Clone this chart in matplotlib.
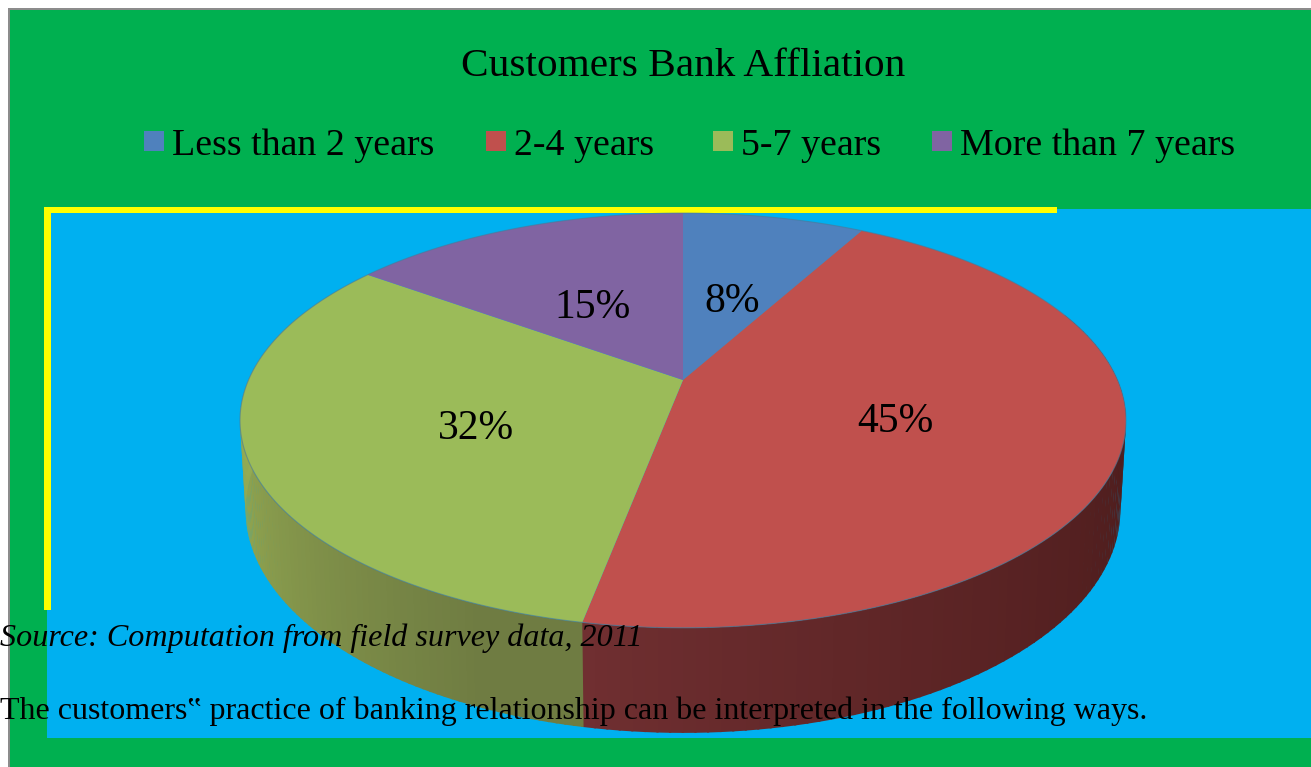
import numpy as np
import matplotlib
matplotlib.use("Agg")
import matplotlib.pyplot as plt
from matplotlib.colors import to_rgb
from matplotlib.patches import Polygon, Rectangle

# chart data
title = "Customers Bank Affliation"
categories = ["Less than 2 years", "2-4 years", "5-7 years", "More than 7 years"]
shares = [8, 45, 32, 15]
source_note = "Source: Computation from field survey data, 2011"
body_line = "The customers\u201f practice of banking relationship can be interpreted in the following ways."

colors = ["#4F81BD", "#C0504D", "#9BBB59", "#8064A2"]
side_near = ["#2c4a6e", "#4c1c1c", "#95ab52", "#4c3b60"]
side_far = ["#2c4a6e", "#702f31", "#6f7c42", "#4c3b60"]

plt.rcParams["font.family"] = ["Liberation Serif", "DejaVu Serif"]

fig = plt.figure(figsize=(13.11, 7.67), dpi=100, facecolor="white")
ax = fig.add_axes([0, 0, 1, 1])
ax.set_xlim(0, 1311)
ax.set_ylim(767, 0)
ax.axis("off")

# page background, plot area and the yellow corner
ax.add_patch(Rectangle((8, 8), 1303, 759, fc="#8c8c8c", ec="none", zorder=1))
ax.add_patch(Rectangle((9.5, 9.5), 1302, 758, fc="#00B050", ec="none", zorder=1))
ax.add_patch(Rectangle((47, 209), 1264, 529, fc="#00B0F0", ec="none", zorder=2))
ax.add_patch(Rectangle((44, 207), 1013, 6, fc="#FFFF00", ec="none", zorder=3))
ax.add_patch(Rectangle((44, 207), 7, 403, fc="#FFFF00", ec="none", zorder=3))


def project(angle, cy, a, b, k=0.195, cx=683):
    # perspective view of the pie disc, angle runs clockwise from the back
    u, v = np.sin(angle), np.cos(angle)
    w = 1 + k * v
    return cx + b * u / w, (cy - a * v) / w


top = dict(cy=380, a=125.4, b=434.5)
bottom = dict(cy=466.5, a=123.5, b=429)

fractions = np.array(shares) / sum(shares)
edges = np.concatenate([[0], np.cumsum(fractions)]) * 2 * np.pi

# side wall, built out of thin strips so it can be shaded
for i in range(len(shares)):
    th = np.linspace(edges[i], edges[i + 1], 120)
    c0 = np.array(to_rgb(side_near[i]))
    c1 = np.array(to_rgb(side_far[i]))
    for j in range(len(th) - 1):
        if np.cos(th[j]) > 0.35:
            continue
        t = (j + 0.5) / (len(th) - 1)
        if i == 1:
            col = c0 + (c1 - c0) * np.clip((t - 0.25) / 0.75, 0, 1) ** 2
        else:
            col = c1 + (c0 - c1) * np.clip((t - 0.1) / 0.5, 0, 1)
        x0, y0 = project(th[j], **top)
        x1, y1 = project(th[j + 1] + 0.004, **top)
        x2, y2 = project(th[j + 1] + 0.004, **bottom)
        x3, y3 = project(th[j], **bottom)
        ax.add_patch(Polygon([(x0, y0), (x1, y1), (x2, y2), (x3, y3)],
                             fc=col, ec="none", zorder=4))

# top face
for i in range(len(shares)):
    th = np.linspace(edges[i], edges[i + 1], 200)
    xs, ys = project(th, **top)
    pts = np.column_stack([np.r_[683, xs], np.r_[380, ys]])
    ax.add_patch(Polygon(pts, fc=colors[i], ec="none", zorder=5))
th = np.linspace(0, 2 * np.pi, 400)
xs, ys = project(th, **top)
ax.add_patch(Polygon(np.column_stack([xs, ys]), fill=False, ec="#4a7a98", lw=0.8, alpha=0.6, zorder=6))

ax.text(683, 76, title, fontsize=29.7, ha="center", va="baseline", zorder=8)

# legend row
legend_x = [144, 486, 713, 932]
for lx, name, c in zip(legend_x, categories, colors):
    ax.add_patch(Rectangle((lx, 131), 19.5, 20, fc=c, ec="none", zorder=8))
    ax.text(lx + 28, 155, name, fontsize=27.3, ha="left", va="baseline", zorder=8)

# value labels on the slices
label_pos = [(732, 312), (895, 432), (476, 439), (592, 318)]
for (lx, ly), v in zip(label_pos, shares):
    ax.text(lx, ly, f"{v}%", fontsize=30, ha="center", va="baseline", zorder=8)

ax.text(0, 646, source_note, fontsize=23.1, style="italic", ha="left", va="baseline", zorder=8)
ax.text(0, 719, body_line, fontsize=23, ha="left", va="baseline", zorder=8)

fig.savefig("out.png", dpi=100)
